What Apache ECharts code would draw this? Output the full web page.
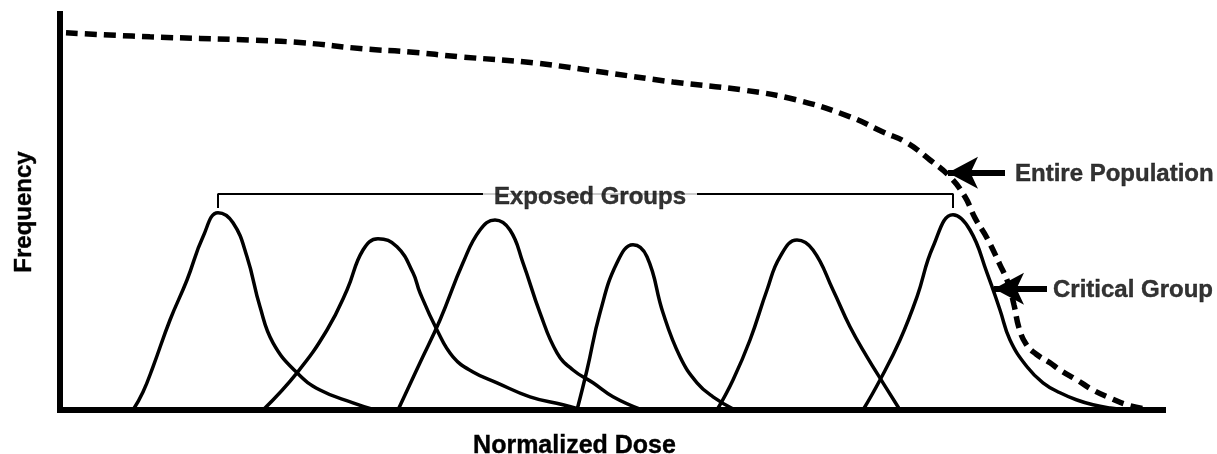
<!DOCTYPE html>
<html>
<head>
<meta charset="utf-8">
<script src="https://cdn.jsdelivr.net/npm/echarts@6/dist/echarts.min.js"></script>
<style>html,body{margin:0;padding:0;background:#fff}#c{width:1217px;height:454px}</style>
</head>
<body>
<div id="c"></div>
<script>
// Entire population (dashed)
const popDose = [0.6, 9, 19, 24.3, 30.3, 35, 40, 47.3, 54.7, 61.3, 68.3, 73.7, 79, 82.3, 84.7, 87, 89, 90.5, 91.5, 92.7, 94, 94.8, 95.4, 95.9, 96.6, 97.6, 99, 100, 101.7, 103.3, 105, 106.7, 108.5];
const popFreq = [94.3, 93.3, 92.5, 91.8, 90.3, 89.5, 88.3, 86.8, 84.3, 82, 80, 77.5, 73.3, 69.5, 66.8, 62.5, 58.3, 53.3, 48, 43, 36.3, 31.8, 26.3, 20.5, 16.5, 14, 11.8, 10, 7.5, 5, 3, 1.3, 0.3];

// Exposed groups (solid)
const g1Dose = [7.3, 8.3, 9.3, 11, 12.7, 14.3, 15.8, 17.3, 18.7, 20, 21.3, 23.7, 26, 29.3, 31.5];
const g1Freq = [0, 4.5, 10.8, 22.5, 32.5, 43.3, 49.3, 46.8, 38.3, 25.8, 16.8, 9.3, 5, 1.8, 0];
const g2Dose = [20.3, 23.7, 26.7, 28.7, 30.3, 31.8, 33.7, 35.3, 36, 37.7, 39.3, 41.3, 43.7, 47, 50.3, 52.2];
const g2Freq = [0, 9.3, 20, 30, 40, 42.8, 40.8, 34.3, 29.3, 20, 13.3, 9.5, 6.8, 3.3, 1.3, 0];
const g3Dose = [33.8, 36, 38, 40.3, 42, 43.5, 45, 46.3, 48, 49.7, 51.3, 53.3, 55.3, 58.2];
const g3Freq = [0, 11.8, 22.5, 36.8, 45, 47.5, 45, 36.8, 24.3, 14.3, 10, 6.8, 3.3, 0];
const g4Dose = [51.7, 52.7, 54, 55.7, 57.3, 58.7, 60.3, 62, 63.7, 65.3, 67.5];
const g4Freq = [0, 10, 24.3, 36.8, 41.3, 38.3, 24.3, 13.3, 6.8, 3.3, 0];
const g5Dose = [65.7, 67.3, 69, 70.7, 72, 73.7, 75.3, 77.3, 79, 80.7, 82.3, 84];
const g5Freq = [0, 7.5, 17.5, 30, 38.3, 42.5, 40, 30, 20.8, 13.3, 6.8, 0];
const g6Dose = [80.3, 82, 84, 85.7, 87.3, 89.3, 91, 92.7, 94, 95, 96.7, 98.3, 100, 101.7, 103.3, 105, 106.7];
const g6Freq = [0, 7.5, 17.5, 28.3, 40.8, 48.8, 45, 34.3, 25, 17.5, 10.8, 6.8, 4.3, 2.5, 1.3, 0.5, 0];

// Bracket over the exposed groups
const bracketDose = [15.8, 15.8, 89.3, 89.3];
const bracketFreq = [50.5, 54, 54, 50.5];

// Annotation texts
const annoText = ['Exposed Groups', 'Entire Population', 'Critical Group'];
const annoDose = [53, 95.5, 99.3];
const annoFreq = [54, 59.3, 30.3];

// Arrows [from, to]
const arrowFrom = [[94.5, 59.3], [98.7, 30.3]];
const arrowTo = [[88.8, 59.3], [93.4, 30.3]];

const zip = (a, b) => a.map((v, i) => [v, b[i]]);
const FONT = '"Liberation Sans", Arial, Helvetica, sans-serif';
const TXT = { color: '#000', fontFamily: FONT, fontWeight: 'bold', fontSize: 24, textBorderColor: '#000', textBorderWidth: 0.4 };

const groups = [[g1Dose, g1Freq], [g2Dose, g2Freq], [g3Dose, g3Freq], [g4Dose, g4Freq], [g5Dose, g5Freq], [g6Dose, g6Freq]];

const series = groups.map((g, i) => ({
  name: 'Group ' + (i + 1),
  type: 'line',
  data: zip(g[0], g[1]),
  smooth: 0.45,
  showSymbol: false,
  symbol: 'none',
  lineStyle: { color: '#000', width: 3.5 },
  z: 3
}));

series.push({
  name: 'Entire Population',
  type: 'line',
  data: zip(popDose, popFreq),
  smooth: 0.45,
  symbol: 'none',
  lineStyle: { color: '#000', width: 5.5, type: [12, 7] },
  z: 4,
  markLine: {
    silent: true,
    symbol: ['none', 'arrow'],
    symbolSize: [24, 30],
    lineStyle: { color: '#000', width: 6, type: 'solid' },
    label: { show: false },
    data: arrowFrom.map((f, i) => [{ coord: f }, { coord: arrowTo[i] }])
  }
});

series.push({
  name: 'Bracket',
  type: 'line',
  data: zip(bracketDose, bracketFreq),
  symbol: 'none',
  lineStyle: { color: '#000', width: 2 },
  z: 2
});

series.push({
  name: 'Labels',
  type: 'scatter',
  symbolSize: 0,
  z: 10,
  data: annoText.map((t, i) => ({
    value: [annoDose[i], annoFreq[i]],
    label: Object.assign({
      show: true,
      formatter: t,
      position: i === 0 ? 'inside' : 'right',
      distance: 0,
      offset: i === 0 ? [0, 3] : [0, 2],
      backgroundColor: i === 0 ? '#fff' : 'transparent',
      padding: i === 0 ? [0, 11] : 0
    }, TXT)
  }))
});

const chart = echarts.init(document.getElementById('c'), null, { renderer: 'canvas' });
chart.setOption({
  animation: false,
  backgroundColor: '#fff',
  grid: { left: 60, right: 54, top: 14, bottom: 44, containLabel: false, outerBoundsMode: 'none' },
  xAxis: {
    type: 'value', min: 0, max: 110.3,
    name: 'Normalized Dose', nameLocation: 'middle', nameGap: 24,
    nameTextStyle: Object.assign({}, TXT, { fontSize: 25, padding: [0, 74, 0, 0] }),
    axisLine: { show: true, onZero: false, lineStyle: { color: '#000', width: 6, cap: 'square' } },
    axisTick: { show: false }, axisLabel: { show: false }, splitLine: { show: false }
  },
  yAxis: {
    type: 'value', min: 0, max: 99,
    name: 'Frequency', nameLocation: 'middle', nameGap: 24, nameRotate: 90,
    nameTextStyle: TXT,
    axisLine: { show: true, onZero: false, lineStyle: { color: '#000', width: 6, cap: 'square' } },
    axisTick: { show: false }, axisLabel: { show: false }, splitLine: { show: false }
  },
  series: series
});
</script>
</body>
</html>
